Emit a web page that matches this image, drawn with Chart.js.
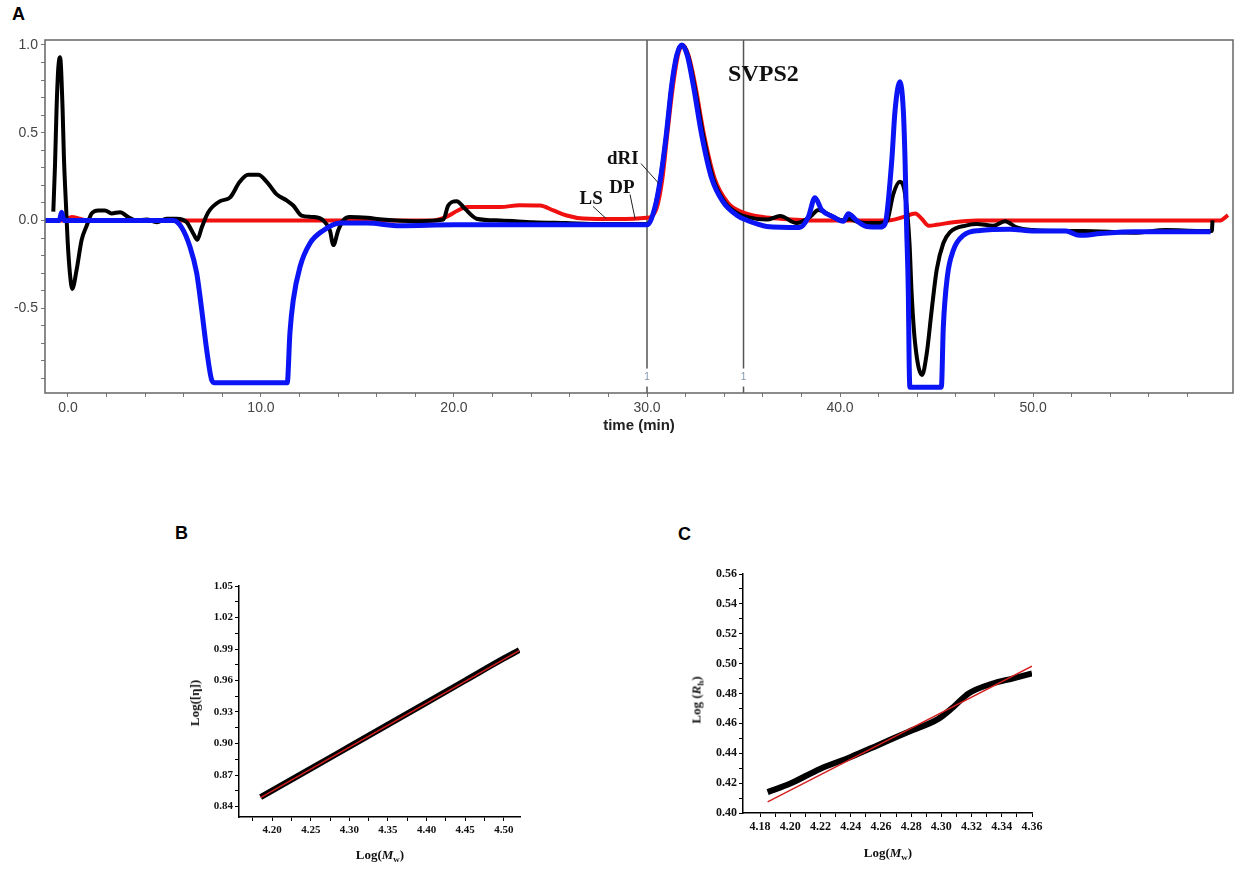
<!DOCTYPE html>
<html lang="en">
  <head>
    <meta charset="UTF-8" />
    <title>SVPS2 SEC chromatogram</title>
    <script src="https://cdn.jsdelivr.net/npm/chart.js"></script>
    <style>
      body {
        margin: 0;
        background: #fff;
        font-family: "Liberation Sans", Arial, sans-serif;
      }
      #page {
        position: relative;
        width: 1248px;
        height: 878px;
        overflow: hidden;
      }
      canvas {
        position: absolute;
      }
      .letter {
        position: absolute;
        font: bold 18px "Liberation Sans", Arial, sans-serif;
        color: #000;
      }
      .axis-title {
        position: absolute;
        font: bold 13px "Liberation Serif", "Times New Roman", serif;
        color: #111;
        white-space: nowrap;
        transform: translate(-50%, -50%);
      }
      .axis-title.vertical {
        transform: translate(-50%, -50%) rotate(-90deg);
      }
      .axis-title sub {
        font-size: 9px;
        vertical-align: -3px;
      }
    </style>
  </head>
  <body>
    <div id="page">
      <div class="letter" style="left: 12px; top: 4px">A</div>
      <div class="letter" style="left: 175px; top: 523px">B</div>
      <div class="letter" style="left: 678px; top: 524px">C</div>

      <canvas id="chartA" width="1248" height="440" style="left: 0; top: 0"></canvas>
      <canvas id="chartB" width="380" height="318" style="left: 160px; top: 560px"></canvas>
      <canvas id="chartC" width="400" height="318" style="left: 660px; top: 560px"></canvas>

      <div class="axis-title vertical" style="left: 195px; top: 703px">Log([η])</div>
      <div class="axis-title" style="left: 380px; top: 855px">Log(<i>M</i><sub>w</sub>)</div>
      <div class="axis-title vertical" style="left: 697px; top: 700px">Log (<i>R</i><sub>h</sub>)</div>
      <div class="axis-title" style="left: 888px; top: 853px">Log(<i>M</i><sub>w</sub>)</div>
    </div>

    <script>
      // ---- panel A: detector traces vs time (min) ----
      const blackTime = [
        -0.76, -0.67, -0.59, -0.5, -0.41, -0.28, -0.21, -0.1, -0.02, 0.1, 0.22,
        0.45, 0.71, 0.97, 1.23, 1.57, 1.92, 2.26, 2.7, 3.12, 3.56, 4.08, 4.6,
        5.11, 5.63, 6.15, 6.5, 6.7, 6.93, 7.27, 7.88, 8.39, 8.9, 9.34, 9.86,
        10.3, 10.8, 11.33, 11.67, 12.1, 12.7, 13.23, 13.57, 13.75, 14.0, 14.26,
        14.6, 15.5, 16.3, 18.07, 19.45, 19.7, 20.14, 20.57, 21.17, 22.4, 24.1,
        25.8, 27.56, 29.3, 30.0, 30.4, 30.7, 31.0, 31.28, 31.54, 31.82, 32.12,
        32.45, 32.9, 33.42, 34.05, 34.7, 35.16, 36.2, 36.9, 37.75, 38.45, 38.88,
        39.48, 40.17, 40.5, 40.95, 41.7, 42.33, 42.45, 42.76, 43.1, 43.37, 43.6,
        43.71, 43.89, 44.25, 44.49, 44.75, 45.01, 45.35, 45.7, 46.56, 47.08,
        47.94, 48.55, 49.15, 50.0, 51.7, 52.6, 55.2, 56.9, 58.65, 59.26, 59.3,
      ];
      const blackSignal = [
        0.05, 0.32, 0.64, 0.87, 0.93, 0.64, 0.36, 0.08, -0.11, -0.3, -0.39,
        -0.28, -0.11, -0.03, 0.04, 0.057, 0.057, 0.04, 0.047, 0.019, 0.0, 0.005,
        -0.01, 0.01, 0.01, -0.01, -0.076, -0.11, -0.04, 0.047, 0.11, 0.13, 0.22,
        0.26, 0.26, 0.22, 0.15, 0.114, 0.085, 0.028, 0.02, 0.0, -0.057, -0.14,
        -0.057, 0.0, 0.019, 0.015, 0.005, -0.004, 0.005, 0.085, 0.11, 0.066,
        0.01, 0.0, -0.01, -0.015, -0.02, -0.02, -0.02, 0.07, 0.24, 0.49, 0.77,
        0.94, 1.0, 0.94, 0.77, 0.49, 0.24, 0.1, 0.04, 0.02, 0.005, 0.025, -0.015,
        0.02, 0.06, 0.03, 0.0, 0.01, -0.01, -0.015, -0.01, 0.0, 0.15, 0.22,
        0.15, -0.13, -0.415, -0.7, -0.88, -0.76, -0.51, -0.28, -0.13, -0.066,
        -0.028, -0.02, -0.03, -0.004, -0.04, -0.055, -0.06, -0.06, -0.07,
        -0.055, -0.06, -0.06, 0.0,
      ];

      const redTime = [
        -1.2, -0.2, 0.2, 0.6, 1.0, 5.0, 10.0, 15.0, 18.9, 19.6, 20.2, 20.66,
        22.4, 23.4, 24.46, 25.15, 25.84, 26.7, 28.4, 29.98, 30.5, 30.8, 31.05,
        31.35, 31.6, 31.85, 32.15, 32.5, 32.95, 33.5, 34.2, 35.0, 36.0, 36.9,
        38.8, 42.5, 43.3, 43.9, 44.23, 44.6, 45.0, 45.87, 47.1, 55.0, 59.7, 60.1,
      ];
      const redSignal = [
        0.0, 0.0, 0.02, 0.01, 0.0, 0.0, 0.0, 0.0, 0.0, 0.02, 0.057, 0.076,
        0.076, 0.087, 0.085, 0.057, 0.028, 0.011, 0.008, 0.015, 0.07, 0.24,
        0.49, 0.77, 0.94, 1.0, 0.94, 0.77, 0.49, 0.24, 0.1, 0.045, 0.02, 0.01,
        0.0, 0.0, 0.02, 0.04, 0.01, -0.03, -0.025, -0.01, 0.0, 0.0, 0.0, 0.03,
      ];

      const blueTime = [
        -1.2, -0.45, -0.33, -0.2, 0.5, 3.0, 5.46, 5.89, 6.32, 6.67, 6.93, 7.19,
        7.45, 7.6, 11.36, 11.5, 11.67, 12.02, 12.54, 13.23, 14.1, 15.5, 17.2,
        20.0, 25.0, 30.0, 30.4, 30.7, 31.0, 31.28, 31.54, 31.8, 32.09, 32.4,
        32.83, 33.35, 33.95, 34.65, 35.2, 35.7, 36.2, 37.9, 38.36, 38.7, 39.05,
        39.65, 40.17, 40.43, 40.86, 41.38, 42.07, 42.33, 42.68, 42.85, 43.1,
        43.28, 43.37, 43.45, 43.54, 43.58, 43.62, 45.25, 45.35, 45.56, 45.87,
        46.39, 47.25, 48.8, 50.0, 51.7, 52.4, 53.5, 55.2, 59.2,
      ];
      const blueSignal = [
        0.0, 0.0, 0.047, 0.0, 0.0, 0.0, 0.0, -0.04, -0.15, -0.3, -0.51, -0.74,
        -0.91, -0.925, -0.925, -0.64, -0.455, -0.265, -0.13, -0.057, -0.015,
        -0.015, -0.03, -0.025, -0.025, -0.025, 0.07, 0.24, 0.49, 0.77, 0.94,
        1.0, 0.94, 0.77, 0.49, 0.24, 0.104, 0.03, 0.0, -0.02, -0.034, -0.04,
        0.02, 0.13, 0.06, 0.02, -0.005, 0.038, 0.0, -0.034, -0.038, -0.02,
        0.34, 0.625, 0.79, 0.625, 0.34, -0.04, -0.42, -0.8, -0.95, -0.95, -0.61,
        -0.32, -0.17, -0.085, -0.057, -0.05, -0.06, -0.06, -0.085, -0.075,
        -0.065, -0.065,
      ];

      const sliceTimes = [30, 35];

      const xTicksA = [
        0, 2, 4, 6, 8, 10, 12, 14, 16, 18, 20, 22, 24, 26, 28, 30, 32, 34, 36,
        38, 40, 42, 44, 46, 48, 50, 52, 54, 56, 58,
      ];
      const xLabelsA = [0, 10, 20, 30, 40, 50];
      const yTicksA = [
        -0.9, -0.8, -0.7, -0.6, -0.5, -0.4, -0.3, -0.2, -0.1, 0, 0.1, 0.2, 0.3,
        0.4, 0.5, 0.6, 0.7, 0.8, 0.9, 1.0,
      ];
      const yLabelsA = [-0.5, 0, 0.5, 1.0];

      // ---- panel B: Log([eta]) vs Log(Mw) ----
      const logMwB = [4.185, 4.25, 4.3, 4.35, 4.4, 4.45, 4.5, 4.52];
      const logEtaB = [0.849, 0.876, 0.897, 0.918, 0.939, 0.96, 0.981, 0.989];
      const fitMwB = [4.185, 4.52];
      const fitEtaB = [0.8485, 0.9885];
      const xTicksB = [
        4.175, 4.2, 4.225, 4.25, 4.275, 4.3, 4.325, 4.35, 4.375, 4.4, 4.425,
        4.45, 4.475, 4.5,
      ];
      const xLabelsB = [4.2, 4.25, 4.3, 4.35, 4.4, 4.45, 4.5];
      const yTicksB = [
        0.84, 0.855, 0.87, 0.885, 0.9, 0.915, 0.93, 0.945, 0.96, 0.975, 0.99,
        1.005, 1.02, 1.035, 1.05,
      ];
      const yLabelsB = [0.84, 0.87, 0.9, 0.93, 0.96, 0.99, 1.02, 1.05];

      // ---- panel C: Log(Rh) vs Log(Mw) ----
      const logMwC = [
        4.185, 4.2, 4.22, 4.24, 4.258, 4.278, 4.298, 4.308, 4.318, 4.334,
        4.347, 4.36,
      ];
      const logRhC = [
        0.414, 0.4197, 0.4297, 0.4375, 0.4454, 0.4543, 0.463, 0.471, 0.48,
        0.4867, 0.49, 0.4934,
      ];
      const fitMwC = [4.185, 4.36];
      const fitRhC = [0.4074, 0.4983];
      const xTicksC = [
        4.18, 4.19, 4.2, 4.21, 4.22, 4.23, 4.24, 4.25, 4.26, 4.27, 4.28, 4.29,
        4.3, 4.31, 4.32, 4.33, 4.34, 4.35, 4.36,
      ];
      const xLabelsC = [4.18, 4.2, 4.22, 4.24, 4.26, 4.28, 4.3, 4.32, 4.34, 4.36];
      const yTicksC = [
        0.4, 0.41, 0.42, 0.43, 0.44, 0.45, 0.46, 0.47, 0.48, 0.49, 0.5, 0.51,
        0.52, 0.53, 0.54, 0.55, 0.56,
      ];
      const yLabelsC = [0.4, 0.42, 0.44, 0.46, 0.48, 0.5, 0.52, 0.54, 0.56];

      // ---- helpers ----
      function points(xs, ys) {
        return xs.map((x, i) => ({ x: x, y: ys[i] }));
      }

      function fixedTicks(values) {
        return (scale) => {
          scale.ticks = values.map((v) => ({ value: v }));
        };
      }

      function labelEvery(labels, digits) {
        return (value) => (labels.includes(value) ? value.toFixed(digits) : "");
      }

      function trace(data, color, width, order) {
        return {
          data: data,
          showLine: true,
          borderColor: color,
          backgroundColor: color,
          borderWidth: width,
          pointRadius: 0,
          cubicInterpolationMode: "monotone",
          order: order,
        };
      }

      Chart.defaults.animation = false;
      Chart.defaults.responsive = false;
      Chart.defaults.plugins.legend.display = false;
      Chart.defaults.plugins.tooltip.enabled = false;

      const serifTick = (size) => ({
        family: "'Liberation Serif', 'Times New Roman', serif",
        size: size,
        weight: "bold",
      });

      // ---- panel A ----
      const yMinA = -0.983;
      const yMaxA = 1.028;

      const annotationsA = [
        { text: "SVPS2", x: 34.2, y: 0.795, size: 24 },
        { text: "dRI", x: 27.93, y: 0.324, size: 19 },
        { text: "DP", x: 28.05, y: 0.159, size: 19 },
        { text: "LS", x: 26.5, y: 0.091, size: 19 },
      ];
      const leadersA = [
        [29.69, 0.324, 30.62, 0.21],
        [29.12, 0.148, 29.38, 0.011],
        [27.2, 0.08, 27.88, 0.011],
      ];

      const overlayA = {
        id: "overlayA",
        afterDatasetsDraw(chart) {
          const { ctx, chartArea, scales } = chart;
          const px = (v) => scales.x.getPixelForValue(v);
          const py = (v) => scales.y.getPixelForValue(v);
          ctx.save();

          // slice markers "1"
          ctx.font = "10px 'Liberation Sans', Arial, sans-serif";
          ctx.textAlign = "center";
          ctx.textBaseline = "middle";
          sliceTimes.forEach((t) => {
            ctx.fillStyle = "#fff";
            ctx.fillRect(px(t) - 4, py(-0.895) - 9, 8, 18);
            ctx.fillStyle = "#8294ad";
            ctx.fillText("1", px(t), py(-0.895));
          });

          // labels and leader lines
          ctx.strokeStyle = "#222";
          ctx.lineWidth = 1;
          leadersA.forEach((l) => {
            ctx.beginPath();
            ctx.moveTo(px(l[0]), py(l[1]));
            ctx.lineTo(px(l[2]), py(l[3]));
            ctx.stroke();
          });
          ctx.fillStyle = "#111";
          ctx.textAlign = "left";
          ctx.textBaseline = "alphabetic";
          annotationsA.forEach((a) => {
            ctx.font =
              "bold " + a.size + "px 'Liberation Serif', 'Times New Roman', serif";
            ctx.fillText(a.text, px(a.x), py(a.y));
          });

          // frame
          ctx.strokeStyle = "#666";
          ctx.lineWidth = 1.5;
          ctx.strokeRect(
            chartArea.left,
            chartArea.top,
            chartArea.right - chartArea.left,
            chartArea.bottom - chartArea.top
          );
          ctx.restore();
        },
      };

      const sliceSets = sliceTimes.map((t) => ({
        data: [
          { x: t, y: yMinA },
          { x: t, y: yMaxA },
        ],
        showLine: true,
        borderColor: "#555",
        borderWidth: 1.5,
        pointRadius: 0,
        order: 5,
      }));

      new Chart(document.getElementById("chartA"), {
        type: "scatter",
        data: {
          datasets: [
            trace(points(blueTime, blueSignal), "#0a14f5", 5, 0),
            trace(points(blackTime, blackSignal), "#000000", 4, 1),
            trace(points(redTime, redSignal), "#f01010", 4, 2),
            ...sliceSets,
          ],
        },
        options: {
          layout: { padding: { top: 40, right: 15, left: 0, bottom: 0 } },
          scales: {
            x: {
              type: "linear",
              min: -1.19,
              max: 60.36,
              afterBuildTicks: fixedTicks(xTicksA),
              afterFit: (s) => {
                s.height = 47;
              },
              grid: {
                drawOnChartArea: false,
                tickLength: 4,
                tickColor: "#777",
              },
              border: { display: false },
              ticks: {
                autoSkip: false,
                maxRotation: 0,
                padding: 3,
                color: "#444",
                font: { family: "'Liberation Sans', Arial, sans-serif", size: 14 },
                callback: labelEvery(xLabelsA, 1),
              },
              title: {
                display: true,
                text: "time (min)",
                color: "#222",
                padding: { top: 0, bottom: 5 },
                font: {
                  family: "'Liberation Sans', Arial, sans-serif",
                  size: 15,
                  weight: "bold",
                },
              },
            },
            y: {
              min: yMinA,
              max: yMaxA,
              afterBuildTicks: fixedTicks(yTicksA),
              afterFit: (s) => {
                s.width = 45;
              },
              grid: {
                drawOnChartArea: false,
                tickLength: 4,
                tickColor: "#777",
              },
              border: { display: false },
              ticks: {
                autoSkip: false,
                padding: 3,
                color: "#444",
                font: { family: "'Liberation Sans', Arial, sans-serif", size: 14 },
                callback: labelEvery(yLabelsA, 1),
              },
            },
          },
        },
        plugins: [overlayA],
      });

      // ---- panels B and C ----
      function scatterPanel(id, opts) {
        new Chart(document.getElementById(id), {
          type: "scatter",
          data: {
            datasets: [
              {
                data: opts.fit,
                showLine: true,
                borderColor: "#d42020",
                borderWidth: 1.5,
                pointRadius: 0,
                order: 0,
              },
              {
                data: opts.points,
                showLine: true,
                borderColor: "#000",
                borderWidth: 6,
                pointRadius: 0,
                cubicInterpolationMode: "monotone",
                order: 1,
              },
            ],
          },
          options: {
            layout: { padding: opts.padding },
            scales: {
              x: {
                type: "linear",
                min: opts.xMin,
                max: opts.xMax,
                afterBuildTicks: fixedTicks(opts.xTicks),
                afterFit: (s) => {
                  s.height = opts.xHeight;
                },
                grid: { drawOnChartArea: false, tickLength: 4, tickColor: "#000" },
                border: { color: "#000", width: 1.5 },
                ticks: {
                  autoSkip: false,
                  maxRotation: 0,
                  padding: 3,
                  color: "#111",
                  font: serifTick(opts.fontSize),
                  callback: labelEvery(opts.xLabels, 2),
                },
              },
              y: {
                min: opts.yMin,
                max: opts.yMax,
                afterBuildTicks: fixedTicks(opts.yTicks),
                afterFit: (s) => {
                  s.width = opts.yWidth;
                },
                grid: { drawOnChartArea: false, tickLength: 4, tickColor: "#000" },
                border: { color: "#000", width: 1.5 },
                ticks: {
                  autoSkip: false,
                  padding: 2,
                  color: "#111",
                  font: serifTick(opts.fontSize),
                  callback: labelEvery(opts.yLabels, 2),
                },
              },
            },
          },
        });
      }

      scatterPanel("chartB", {
        points: points(logMwB, logEtaB),
        fit: points(fitMwB, fitEtaB),
        xMin: 4.157,
        xMax: 4.521,
        yMin: 0.83,
        yMax: 1.05,
        xTicks: xTicksB,
        xLabels: xLabelsB,
        yTicks: yTicksB,
        yLabels: yLabelsB,
        padding: { top: 26, right: 20, left: 0, bottom: 0 },
        xHeight: 61,
        yWidth: 79,
        fontSize: 11,
      });

      scatterPanel("chartC", {
        points: points(logMwC, logRhC),
        fit: points(fitMwC, fitRhC),
        xMin: 4.1687,
        xMax: 4.36,
        yMin: 0.4,
        yMax: 0.56,
        xTicks: xTicksC,
        xLabels: xLabelsC,
        yTicks: yTicksC,
        yLabels: yLabelsC,
        padding: { top: 14, right: 28, left: 0, bottom: 0 },
        xHeight: 65,
        yWidth: 83,
        fontSize: 12,
      });
    </script>
  </body>
</html>
